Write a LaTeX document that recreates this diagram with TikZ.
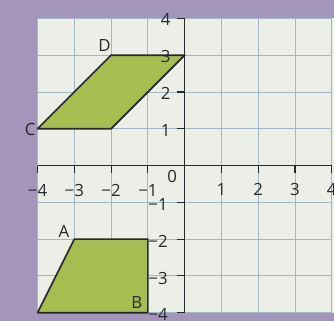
\documentclass[tikz,border=0pt]{standalone}
\usepackage{fontspec}
\setmainfont{Open Sans}
\definecolor{bgpurple}{RGB}{164,150,186}
\definecolor{paper}{RGB}{236,238,232}
\definecolor{gridblue}{RGB}{162,184,198}
\definecolor{figgreen}{RGB}{166,190,80}
\definecolor{ink}{RGB}{40,40,42}
\tikzset{
  lbl/.style={font=\fontsize{13}{15}\selectfont, text=ink, inner sep=1pt},
  axisline/.style={draw=ink, line width=0.9pt},
  figure/.style={draw=ink, fill=figgreen, line width=1.3pt, line join=round}
}
\begin{document}
\begin{tikzpicture}
    \useasboundingbox[fill=bgpurple] (-5.02,-4.22) rectangle (4.06,4.5);
    \fill[paper] (-4,-4) rectangle (4.06,4);
    \draw[gridblue, line width=0.6pt] (-4,-4) grid (4,4);

    % parallelogram
    \coordinate (C) at (-4,1);
    \coordinate (E) at (-2,1);
    \coordinate (F) at (0,3);
    \coordinate (D) at (-2,3);
    \draw[figure] (C) -- (E) -- (F) -- (D) -- cycle;

    % trapezium
    \coordinate (A) at (-3,-2);
    \coordinate (G) at (-1,-2);
    \coordinate (B) at (-1,-4);
    \coordinate (H) at (-4,-4);
    \draw[figure] (A) -- (G) -- (B) -- (H) -- cycle;

    % axes
    \draw[axisline] (-4,0) -- (4,0);
    \draw[axisline] (0,-4) -- (0,4);
    \foreach \x in {-4,-3,-2,-1,1,2,3,4}
        \draw[axisline] (\x,0) -- (\x,-0.2);
    \foreach \y in {-4,-3,-2,-1,1,2,3,4}
        \draw[axisline] (0,\y) -- (-0.2,\y);

    \foreach \x in {-4,-3,-2,-1}
        \node[lbl] (x\x) at (\x,-0.68) {−\the\numexpr-\x\relax};
    \foreach \x in {1,2,3,4}
        \node[lbl] (x\x) at (\x,-0.64) {\x};
    \foreach \y in {1,2,3,4}
        \node[lbl, anchor=east] (y\y) at (-0.34,\y-0.04) {\y};
    \foreach \y in {-1,-2,-3,-4}
        \node[lbl, anchor=east] (y\y) at (-0.42,\y-0.06) {−\the\numexpr-\y\relax};
    \node[lbl] (o) at (-0.34,-0.3) {0};

    % vertex labels
    \node[lbl] (labD) at (-2.18,3.27) {D};
    \node[lbl] (labC) at (-4.2,0.98) {C};
    \node[lbl] (labA) at (-3.28,-1.78) {A};
    \node[lbl] (labB) at (-1.3,-3.72) {B};
\end{tikzpicture}
\end{document}
